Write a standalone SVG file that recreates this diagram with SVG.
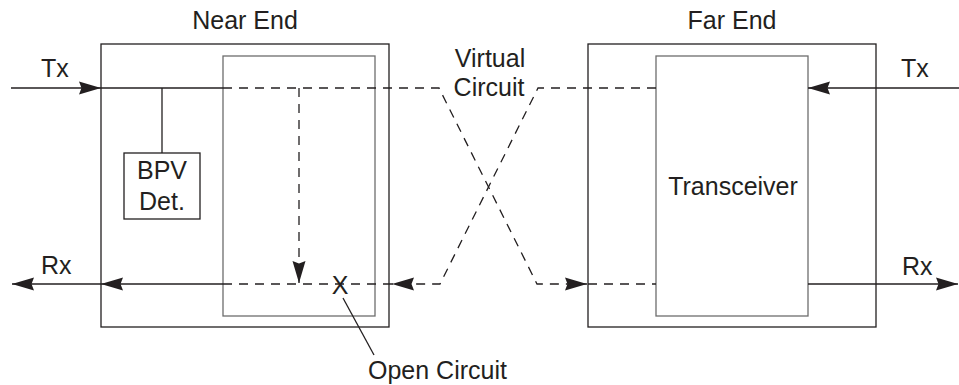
<svg xmlns="http://www.w3.org/2000/svg" width="959" height="385" viewBox="0 0 959 385">
<style>
text{font-family:"Liberation Sans",Arial,sans-serif;font-size:25px;fill:#231f20}
.outer{fill:none;stroke:#231f20;stroke-width:1.3}
.inner{fill:none;stroke:#6d6d6d;stroke-width:1.3}
.s{fill:none;stroke:#231f20;stroke-width:1.3}
.d{fill:none;stroke:#231f20;stroke-width:1.3;stroke-dasharray:9 7}
</style>
<defs>
<marker id="arr" markerUnits="userSpaceOnUse" markerWidth="24" markerHeight="14" refX="22" refY="7" orient="auto">
<path d="M0,0.5 L22,7 L0,13.5 L2.5,7 z" fill="#231f20"/>
</marker>
</defs>
<rect width="959" height="385" fill="#fff"/>
<g id="near-end">
<rect class="outer" x="101" y="44" width="288" height="283"/>
<rect class="inner" x="223" y="56" width="152" height="260"/>
<text x="245" y="29" text-anchor="middle">Near End</text>
</g>
<g id="bpv-det">
<rect class="s" x="124" y="153" width="76" height="66"/>
<text x="162" y="179" text-anchor="middle">BPV</text>
<text x="162" y="210" text-anchor="middle">Det.</text>
</g>
<g id="far-end">
<rect class="outer" x="588" y="44" width="288" height="283"/>
<text x="732" y="29" text-anchor="middle">Far End</text>
</g>
<g id="transceiver">
<rect class="inner" x="656" y="56" width="152" height="260"/>
<text x="733" y="195" text-anchor="middle">Transceiver</text>
</g>
<g id="labels">
<text x="41" y="77">Tx</text>
<text x="41" y="274">Rx</text>
<text x="901" y="77">Tx</text>
<text x="902" y="275">Rx</text>
<text x="490" y="67" text-anchor="middle">Virtual</text>
<text x="489" y="96" text-anchor="middle">Circuit</text>
<text x="340" y="294" text-anchor="middle">X</text>
<text x="368" y="379">Open Circuit</text>
</g>
<g id="connectors">
<line class="s" x1="11" y1="88" x2="101" y2="88" marker-end="url(#arr)"/>
<line class="s" x1="101" y1="88" x2="223" y2="88"/>
<line class="s" x1="162" y1="88" x2="162" y2="153"/>
<polyline class="d" points="223,88 439,88 537,284 587,284" marker-end="url(#arr)"/>
<line class="d" x1="588" y1="284" x2="656" y2="284"/>
<line class="d" x1="299" y1="88" x2="299" y2="283" marker-end="url(#arr)"/>
<polyline class="d" points="656,88 538,88 440,284 392,284" marker-end="url(#arr)"/>
<line class="d" x1="392" y1="284" x2="223" y2="284"/>
<line class="s" x1="223" y1="284" x2="101" y2="284" marker-end="url(#arr)"/>
<line class="s" x1="101" y1="284" x2="12" y2="284" marker-end="url(#arr)"/>
<line class="s" x1="959" y1="88" x2="808" y2="88" marker-end="url(#arr)"/>
<line class="s" x1="808" y1="284" x2="958" y2="284" marker-end="url(#arr)"/>
<line class="s" x1="343" y1="298" x2="374" y2="355"/>
</g>
</svg>
